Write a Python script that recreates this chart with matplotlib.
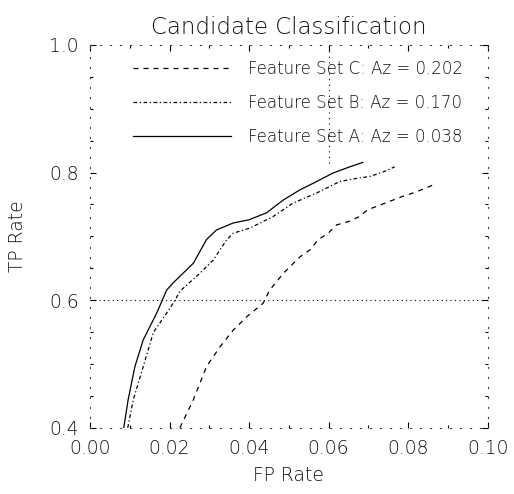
import matplotlib
matplotlib.use("Agg")
import matplotlib.pyplot as plt

# Data (FP rate, TP rate)
fp_a = [0.0085, 0.0096, 0.0113, 0.0134, 0.0168, 0.0193, 0.0209, 0.0260, 0.0293, 0.0318,
        0.0360, 0.0400, 0.0444, 0.0486, 0.0528, 0.0570, 0.0610, 0.0653, 0.0686]
tp_a = [0.400, 0.444, 0.496, 0.538, 0.580, 0.616, 0.627, 0.658, 0.695, 0.710,
        0.721, 0.726, 0.737, 0.757, 0.773, 0.786, 0.799, 0.809, 0.816]

fp_b = [0.0095, 0.0109, 0.0134, 0.0159, 0.0193, 0.0214, 0.0226, 0.0276, 0.0310, 0.0343,
        0.0360, 0.0402, 0.0460, 0.0510, 0.0570, 0.0628, 0.0662, 0.0704, 0.0737, 0.0766]
tp_b = [0.400, 0.444, 0.496, 0.549, 0.580, 0.600, 0.614, 0.642, 0.663, 0.694,
        0.705, 0.713, 0.731, 0.752, 0.768, 0.786, 0.790, 0.794, 0.801, 0.809]

fp_c = [0.0226, 0.0260, 0.0293, 0.0327, 0.0360, 0.0394, 0.0435, 0.0452, 0.0486, 0.0528,
        0.0553, 0.0574, 0.0599, 0.0620, 0.0649, 0.0674, 0.0699, 0.0729, 0.0758, 0.0783,
        0.0812, 0.0842, 0.0860]
tp_c = [0.400, 0.444, 0.496, 0.527, 0.553, 0.574, 0.595, 0.616, 0.642, 0.668,
        0.679, 0.695, 0.705, 0.718, 0.723, 0.730, 0.742, 0.749, 0.756, 0.762,
        0.768, 0.775, 0.780]

labels = ["Feature Set C: Az = 0.202", "Feature Set B: Az = 0.170", "Feature Set A: Az = 0.038"]
x_ticks = [0.00, 0.02, 0.04, 0.06, 0.08, 0.10]
y_ticks = [0.4, 0.6, 0.8, 1.0]
title = "Candidate Classification"
xlabel = "FP Rate"
ylabel = "TP Rate"

plt.rcParams['font.family'] = ['DejaVu Sans']
plt.rcParams['font.weight'] = 200
plt.rcParams['axes.titleweight'] = 200
plt.rcParams['axes.labelweight'] = 200
txt_color = '#111111'
fig = plt.figure(figsize=(5.14, 4.94), dpi=100)
ax = fig.add_axes([0.175, 0.134, 0.774, 0.775])

lw = 0.9
lc, = ax.plot(fp_c, tp_c, color='black', lw=lw, linestyle=(0, (4, 4)))
lb, = ax.plot(fp_b, tp_b, color='black', lw=lw, linestyle=(0, (3, 2, 1, 2)))
la, = ax.plot(fp_a, tp_a, color='black', lw=lw, linestyle='-')

# reference lines
ax.axhline(0.6, color='black', lw=0.8, linestyle=(0, (1, 3)))
ax.plot([0.06, 0.06], [0.815, 1.0], color='black', lw=0.8, linestyle=(0, (1, 4)))

ax.set_xlim(0.0, 0.10)
ax.set_ylim(0.4, 1.0)
ax.set_xticks(x_ticks)
ax.set_xticklabels([f"{v:.2f}" for v in x_ticks])
ax.set_yticks(y_ticks)
ax.set_yticklabels([f"{v:.1f}" for v in y_ticks])
ax.set_yticks([0.45, 0.5, 0.55, 0.65, 0.7, 0.75, 0.85, 0.9, 0.95], minor=True)
ax.set_xticks([0.01, 0.03, 0.05, 0.07, 0.09], minor=True)
ax.tick_params(axis='both', which='major', direction='in', length=4, width=0.8,
               labelsize=13.5, pad=8, top=True, right=True, labelcolor=txt_color)
ax.tick_params(axis='both', which='minor', direction='in', length=2, width=0.8,
               top=True, right=True)

for s in ax.spines.values():
    s.set_linestyle((0, (1, 8)))
    s.set_linewidth(0.8)
    s.set_color('#444444')

ax.set_title(title, fontsize=16.5, color=txt_color, pad=8)
ax.set_xlabel(xlabel, fontsize=13.5, color=txt_color, labelpad=6)
ax.set_ylabel(ylabel, fontsize=13.5, color=txt_color, labelpad=16)

leg = ax.legend([lc, lb, la], labels, loc='upper left', bbox_to_anchor=(0.07, 1.0),
                frameon=False, fontsize=12, handlelength=5.9, handletextpad=1.0,
                labelspacing=0.95, labelcolor=txt_color)

fig.savefig("out.png", dpi=100, facecolor='white')
